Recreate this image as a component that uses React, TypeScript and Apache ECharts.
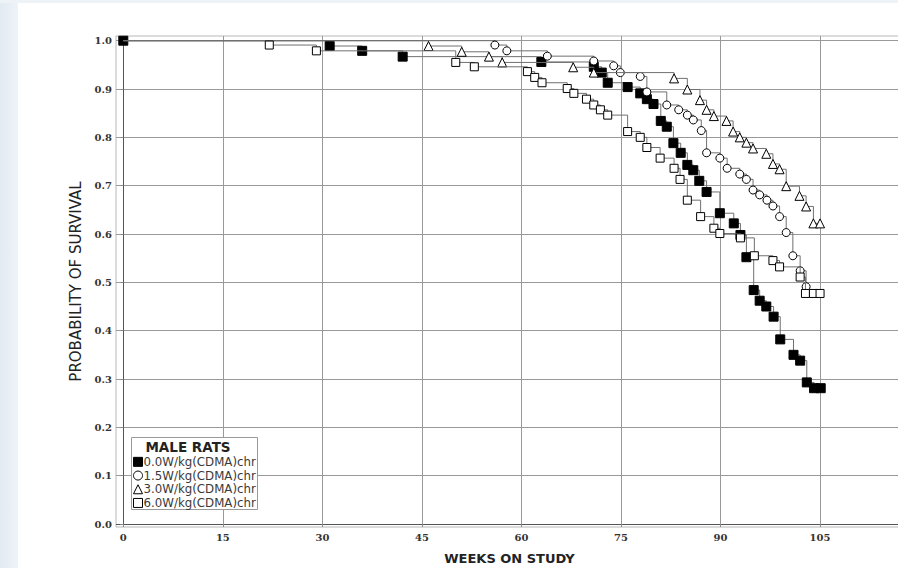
import React, { useEffect, useRef } from "react";
import * as echarts from "echarts";

// ---- ticks / labels ----
const xTicks = [0, 15, 30, 45, 60, 75, 90, 105];
const yTicks = [0, 0.1, 0.2, 0.3, 0.4, 0.5, 0.6, 0.7, 0.8, 0.9, 1.0];
const xTitle = "WEEKS ON STUDY";
const yTitle = "PROBABILITY OF SURVIVAL";
const legendTitle = "MALE RATS";
const groupNames = ["0.0W/kg(CDMA)chr", "1.5W/kg(CDMA)chr", "3.0W/kg(CDMA)chr", "6.0W/kg(CDMA)chr"];

// ---- 0.0 W/kg ----
const weeks00 = [0, 31.1, 36, 42.1, 63, 70.9, 72.1, 73, 76, 77.9, 78.9, 79.9, 81, 81.9, 82.9, 84, 85, 85.9, 86.8, 87.9, 89.9, 92, 93, 93.9, 95, 95.9, 96.9, 98, 99, 101, 102, 103, 104.1, 105.1];
const surv00 = [1, 0.989, 0.979, 0.967, 0.956, 0.946, 0.934, 0.913, 0.904, 0.891, 0.879, 0.869, 0.834, 0.822, 0.788, 0.768, 0.743, 0.732, 0.71, 0.687, 0.643, 0.622, 0.598, 0.552, 0.484, 0.462, 0.45, 0.429, 0.382, 0.35, 0.338, 0.293, 0.281, 0.281];

// ---- 1.5 W/kg ----
const weeks15 = [0, 56, 57.8, 63.9, 70.9, 73.9, 74.9, 77.9, 78.9, 81.9, 83.7, 85, 85.9, 87.1, 87.9, 89.9, 91, 92.9, 93.9, 94.9, 95.9, 97, 97.9, 98.9, 99.9, 100.9, 102, 102.9];
const surv15 = [1, 0.991, 0.979, 0.968, 0.958, 0.948, 0.934, 0.926, 0.894, 0.867, 0.857, 0.846, 0.836, 0.814, 0.768, 0.757, 0.736, 0.724, 0.713, 0.691, 0.681, 0.67, 0.658, 0.636, 0.603, 0.555, 0.524, 0.491];

// ---- 3.0 W/kg ----
const weeks30 = [0, 46, 51, 55.1, 57.1, 67.8, 70.9, 83, 85, 86.9, 87.9, 89, 90.9, 91.9, 92.9, 93.9, 94.9, 96.9, 97.9, 98.9, 99.9, 101.9, 102.9, 104, 105];
const surv30 = [1, 0.989, 0.977, 0.967, 0.955, 0.945, 0.934, 0.922, 0.899, 0.877, 0.857, 0.844, 0.834, 0.812, 0.8, 0.789, 0.777, 0.766, 0.745, 0.734, 0.699, 0.679, 0.657, 0.622, 0.622];

// ---- 6.0 W/kg ----
const weeks60 = [0, 22, 29.1, 50.1, 52.9, 60.9, 62, 63.1, 66.9, 67.9, 69.8, 70.9, 71.9, 73, 76, 77.9, 78.9, 80.9, 83, 83.9, 85, 87, 89, 89.9, 93, 95.1, 97.9, 98.9, 102, 102.8, 104, 105];
const surv60 = [1, 0.991, 0.979, 0.955, 0.946, 0.936, 0.924, 0.913, 0.901, 0.891, 0.879, 0.867, 0.857, 0.846, 0.812, 0.8, 0.779, 0.757, 0.736, 0.713, 0.67, 0.636, 0.612, 0.601, 0.592, 0.555, 0.545, 0.532, 0.511, 0.477, 0.477, 0.477];

const groups = [
  { weeks: weeks00, surv: surv00, symbol: "rect", size: 9, fill: "#000", showFirst: true },
  { weeks: weeks15, surv: surv15, symbol: "circle", size: 8, fill: "#fff", showFirst: false },
  { weeks: weeks30, surv: surv30, symbol: "triangle", size: 9, fill: "#fff", showFirst: false },
  { weeks: weeks60, surv: surv60, symbol: "rect", size: 8, fill: "#fff", showFirst: false },
];

export default function App() {
  const ref = useRef<HTMLDivElement>(null);
  useEffect(() => {
    if (!ref.current) return;
    const chart = echarts.init(ref.current, null, { renderer: "svg" });
    const series = groups.map((g, gi) => ({
      type: "line",
      name: groupNames[gi],
      step: "end",
      showAllSymbol: true,
      symbol: g.symbol,
      symbolSize: g.size,
      lineStyle: { color: "#707070", width: 1 },
      itemStyle: { color: g.fill, borderColor: "#000", borderWidth: 1 },
      emphasis: { disabled: true },
      silent: true,
      z: 3 + gi,
      data: g.weeks.map((w, i) =>
        i === 0 && !g.showFirst
          ? { value: [w, g.surv[i]], symbol: "none" }
          : { value: [w, g.surv[i]] }
      ),
    }));
    const tickFont = { fontFamily: "DejaVu Serif", fontWeight: "bold" as const, fontSize: 10, color: "#333" };
    const option = {
      animation: false,
      backgroundColor: "#fff",
      grid: {
        left: 116,
        top: 36,
        right: -5,
        bottom: 41,
        containLabel: false,
        outerBoundsMode: "none",
        show: true,
        borderColor: "#b8b8b8",
        borderWidth: 1,
      },
      xAxis: {
        type: "value",
        min: -1.1,
        max: 117.5,
        name: xTitle,
        nameLocation: "middle",
        nameGap: 25,
        nameTextStyle: { fontFamily: "DejaVu Sans", fontWeight: "bold", fontSize: 13, color: "#222" },
        axisLine: { show: false },
        axisTick: { show: true, customValues: xTicks, length: 3, lineStyle: { color: "#888" } },
        axisLabel: { customValues: xTicks, margin: 5, ...tickFont },
        splitLine: {
          show: true,
          lineStyle: { color: xTicks.map((v) => (v === 0 ? "#555" : "#999")), width: 1 },
        },
      },
      yAxis: {
        type: "value",
        min: -0.0062,
        max: 1.0097,
        name: yTitle,
        nameLocation: "middle",
        nameRotate: 90,
        nameGap: 31,
        nameTextStyle: { fontFamily: "DejaVu Sans", fontSize: 15, color: "#222" },
        axisLine: { show: false },
        axisTick: { show: true, customValues: yTicks, length: 3, lineStyle: { color: "#888" } },
        axisLabel: { customValues: yTicks, margin: 4, formatter: (v: number) => v.toFixed(1), ...tickFont },
        splitLine: {
          show: true,
          lineStyle: { color: yTicks.map((v) => (v === 0 ? "#555" : "#999")), width: 1 },
        },
      },
      legend: {
        orient: "vertical",
        left: 133,
        top: 455,
        itemWidth: 9,
        itemHeight: 9,
        itemGap: 0,
        padding: 0,
        z: 12,
        selectedMode: false,
        textStyle: { fontFamily: "DejaVu Sans", fontSize: 11.8, color: "#3a3a3a", lineHeight: 13.7, padding: [0, 0, 0, -4] },
        data: groupNames.map((n, i) => ({
          name: n,
          icon: groups[i].symbol,
          itemStyle: { color: groups[i].fill, borderColor: "#000", borderWidth: 1 },
        })),
      },
      graphic: {
        elements: [
          {
            type: "rect",
            z: 0,
            silent: true,
            shape: { x: 0, y: 0, width: 18, height: 568 },
            style: {
              fill: new echarts.graphic.LinearGradient(0, 0, 1, 0, [
                { offset: 0, color: "#e2ebf2" },
                { offset: 1, color: "#eef3f7" },
              ]),
            },
          },
          {
            type: "rect",
            z: 0,
            silent: true,
            shape: { x: 0, y: 0, width: 898, height: 3 },
            style: { fill: "#eef3f7" },
          },
          {
            type: "rect",
            z: 10,
            silent: true,
            shape: { x: 131.5, y: 437.5, width: 126, height: 72 },
            style: { fill: "#fff", stroke: "#999", lineWidth: 1 },
          },
          {
            type: "text",
            z: 12,
            silent: true,
            x: 188,
            y: 447,
            style: {
              text: legendTitle,
              fontFamily: "DejaVu Sans",
              fontWeight: "bold",
              fontSize: 13.5,
              fill: "#222",
              align: "center",
              verticalAlign: "middle",
            },
          },
        ],
      },
      series,
    };
    chart.setOption(option as any);
    return () => chart.dispose();
  }, []);
  return (
    <div
      ref={ref}
      style={{ position: "absolute", left: 0, top: 0, width: 898, height: 568, background: "#fff" }}
    />
  );
}
